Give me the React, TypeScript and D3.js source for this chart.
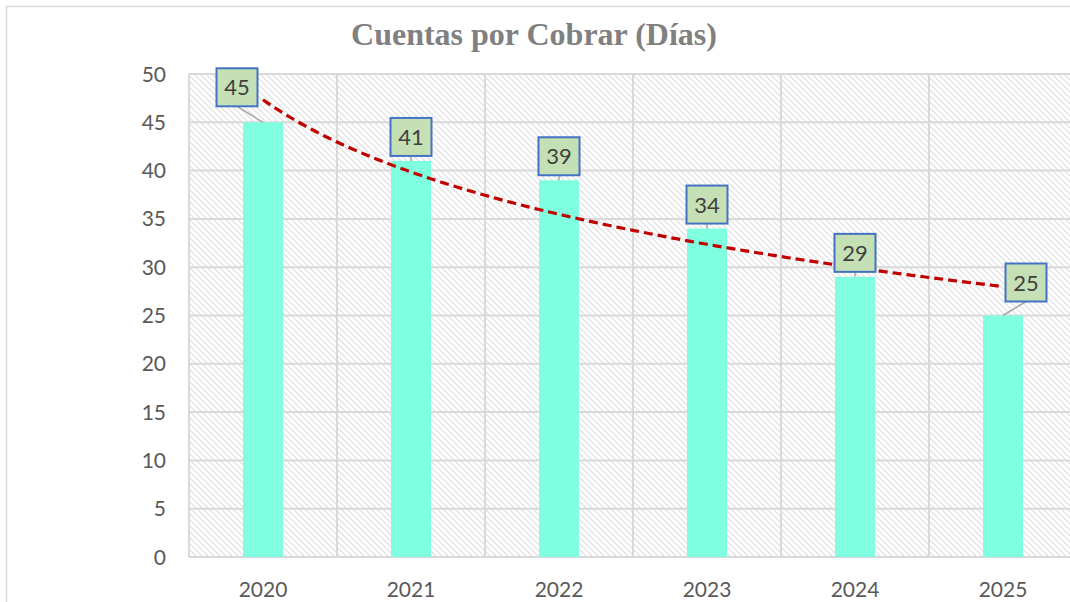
import * as d3 from "d3";
import { useEffect, useRef } from "react";

const years = ["2020", "2021", "2022", "2023", "2024", "2025"];
const days = [45, 41, 39, 34, 29, 25];
const yTicks = [0, 5, 10, 15, 20, 25, 30, 35, 40, 45, 50];
const title = "Cuentas por Cobrar (Días)";

// label box nudges (first and last would otherwise clash with frame / trend)
const labelNudgeX = [-26, 0, 0, 0, 0, 23];
const labelNudgeY = [-11, 0, 0, 0, 0, -9];

const W = 1070, H = 602;
const left = 189, right = 1077, top = 74, bottom = 557;
const numFont = "Lato, 'Open Sans', sans-serif";

export default function App() {
    const ref = useRef<SVGSVGElement>(null);

    useEffect(() => {
        const svg = d3.select(ref.current);
        svg.selectAll("*").remove();

        const x = d3.scaleBand().domain(years).range([left, right]).padding(0);
        const y = d3.scaleLinear().domain([0, 50]).range([bottom, top]);
        const barW = 40;

        const defs = svg.append("defs");
        const pat = defs.append("pattern")
            .attr("id", "hatch")
            .attr("patternUnits", "userSpaceOnUse")
            .attr("width", 6)
            .attr("height", 6);
        pat.append("path")
            .attr("d", "M-1,-1 L7,7 M-1,5 L1,7 M5,-1 L7,1")
            .attr("stroke", "#e2e2e2")
            .attr("stroke-width", 1.3);

        // outer frame
        svg.append("rect")
            .attr("x", 6.5).attr("y", 6.5)
            .attr("width", W).attr("height", H)
            .attr("fill", "white")
            .attr("stroke", "#d9d9d9")
            .attr("stroke-width", 1.5);

        svg.append("text")
            .attr("x", 534).attr("y", 45)
            .attr("text-anchor", "middle")
            .attr("font-family", "'Liberation Serif', 'Times New Roman', serif")
            .attr("font-weight", "bold")
            .attr("font-size", 32)
            .attr("fill", "#808080")
            .text(title);

        // plot area
        svg.append("rect")
            .attr("x", left).attr("y", top)
            .attr("width", right - left).attr("height", bottom - top)
            .attr("fill", "url(#hatch)");

        svg.append("g").selectAll("line")
            .data(yTicks)
            .join("line")
            .attr("x1", left).attr("x2", right)
            .attr("y1", d => y(d)).attr("y2", d => y(d))
            .attr("stroke", "#d9d9d9")
            .attr("stroke-width", 2);

        const bounds = years.map(d => x(d)!).concat([right]);
        svg.append("g").selectAll("line")
            .data(bounds)
            .join("line")
            .attr("x1", d => d).attr("x2", d => d)
            .attr("y1", top).attr("y2", bottom)
            .attr("stroke", "#d9d9d9")
            .attr("stroke-width", 2);

        svg.append("g").selectAll("text")
            .data(yTicks)
            .join("text")
            .attr("x", 166)
            .attr("y", d => y(d) + 7.5)
            .attr("text-anchor", "end")
            .attr("font-family", numFont)
            .attr("font-size", 21)
            .attr("fill", "#595959")
            .text(d => d);

        svg.append("g").selectAll("text")
            .data(years)
            .join("text")
            .attr("x", d => x(d)! + x.bandwidth() / 2)
            .attr("y", 597)
            .attr("text-anchor", "middle")
            .attr("font-family", numFont)
            .attr("font-size", 21)
            .attr("fill", "#595959")
            .text(d => d);

        const cx = (i: number) => x(years[i])! + x.bandwidth() / 2;

        svg.append("g").selectAll("rect")
            .data(days)
            .join("rect")
            .attr("x", (d, i) => cx(i) - barW / 2)
            .attr("y", d => y(d))
            .attr("width", barW)
            .attr("height", d => bottom - y(d))
            .attr("fill", "#7fffe0");

        // logarithmic trendline fitted to the values
        const lx = days.map((d, i) => Math.log(i + 1));
        const mx = d3.mean(lx)!, my = d3.mean(days)!;
        const b = d3.sum(lx, (v, i) => (v - mx) * (days[i] - my)) / d3.sum(lx, v => (v - mx) ** 2);
        const a = my - b * mx;
        const samples = d3.range(1, 6.001, 0.05);
        const line = d3.line<number>()
            .x(t => cx(0) + (t - 1) * x.bandwidth())
            .y(t => y(a + b * Math.log(t)));
        svg.append("path")
            .datum(samples)
            .attr("d", line)
            .attr("fill", "none")
            .attr("stroke", "#c00000")
            .attr("stroke-width", 3.2)
            .attr("stroke-dasharray", "9,5");

        // data labels
        const bw = 41, bh = 38;
        const lab = svg.append("g").selectAll("g")
            .data(days)
            .join("g")
            .attr("transform", (d, i) => {
                const bx = cx(i) - bw / 2 + labelNudgeX[i];
                const by = y(d) - 5 - bh + labelNudgeY[i];
                return `translate(${bx},${by})`;
            });
        lab.append("line")
            .attr("x1", bw / 2).attr("y1", bh)
            .attr("x2", (d, i) => bw / 2 - labelNudgeX[i])
            .attr("y2", (d, i) => bh + 5 - labelNudgeY[i])
            .attr("stroke", "#a6a6a6")
            .attr("stroke-width", 1.5);
        lab.append("rect")
            .attr("width", bw).attr("height", bh)
            .attr("fill", "#c5e0b4")
            .attr("stroke", "#4472c4")
            .attr("stroke-width", 2);
        lab.append("text")
            .attr("x", bw / 2).attr("y", bh / 2 + 8)
            .attr("text-anchor", "middle")
            .attr("font-family", numFont)
            .attr("font-size", 22)
            .attr("fill", "#404040")
            .text(d => d);
    }, []);

    return <svg ref={ref} width={W} height={H} style={{ display: "block", position: "absolute", left: 0, top: 0 }}></svg>;
}
